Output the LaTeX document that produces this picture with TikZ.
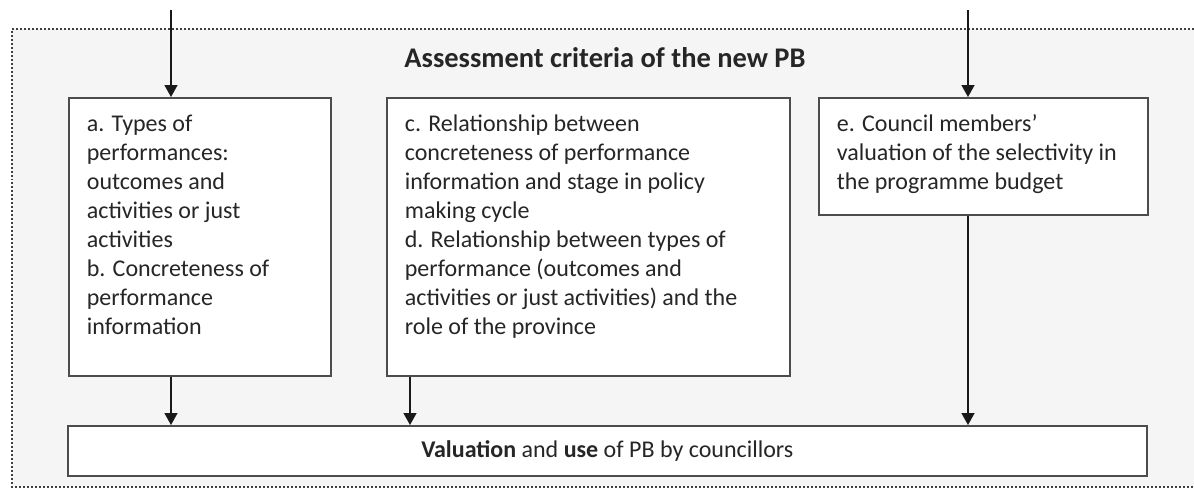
\documentclass[tikz,border=0pt]{standalone}
\usepackage{fontspec}
\setmainfont{Carlito}
\usetikzlibrary{arrows.meta,shadows}

% one pixel of the drawing grid
\newlength\pxl
\setlength\pxl{0.02cm}

\begin{document}
\begin{tikzpicture}[x=0.02cm, y=-0.02cm, >={Triangle[length=0.24cm,width=0.26cm]},
    every node/.style={font=\fontsize{13.66}{16.5}\selectfont, text=black!85}]
    \tikzstyle{crit}=[draw=black!70, line width=0.035cm, fill=white, anchor=north west,
                      inner xsep=0.36cm, inner ysep=0.26cm,
                      drop shadow={shadow xshift=0.03cm, shadow yshift=-0.03cm, fill=black!45}]
    \tikzstyle{result}=[crit, inner sep=0pt, minimum width=21.58cm, minimum height=1cm]
    \tikzstyle{flow}=[->, line width=0.03cm, draw=black!90]
    \tikzstyle{annot}=[anchor=base, font=\fontsize{16.2}{19}\selectfont\bfseries]
    \tikzstyle{frame}=[draw=black!75, line width=0.035cm, dash pattern=on 0.04cm off 0.04cm]

    \useasboundingbox (0,0) rectangle (1194,488);
    \clip (0,0) rectangle (1194,488);

    % the shaded area with its dotted edge (open to the right)
    \fill[black!4] (12,29) rectangle (1210,487);
    \draw[frame] (1210,29) -- (12,29) -- (12,487) -- (1210,487);

    \node[annot] (T) at (605,67) {Assessment criteria of the new PB};

    \node[crit] (A) at (68,97) {\parbox[t][252\pxl][t]{226\pxl}{\raggedright\strut
        a. Types of\\ performances:\\ outcomes and\\ activities or just\\ activities\\
        b. Concreteness of\\ performance\\ information}};
    \node[crit] (C) at (386,97) {\parbox[t][252\pxl][t]{367\pxl}{\raggedright\strut
        c. Relationship between\\ concreteness of performance\\ information and stage in policy\\
        making cycle\\ d. Relationship between types of\\ performance (outcomes and\\
        activities or just activities) and the\\ role of the province}};
    \node[crit] (E) at (818,97) {\parbox[t][91\pxl][t]{293\pxl}{\raggedright\strut
        e. Council members'\\ valuation of the selectivity in\\ the programme budget}};

    \node[result] (V) at (67,425) {\textbf{Valuation} and \textbf{use} of PB by councillors};

    % incoming arrows
    \coordinate (in-A) at (171,10);
    \coordinate (in-E) at (968,10);
    \draw[flow] (in-A) -- (in-A |- A.north);
    \draw[flow] (in-E) -- (in-E |- E.north);

    % down to the valuation box
    \coordinate (x-A) at (171,0);
    \coordinate (x-C) at (410,0);
    \coordinate (x-E) at (968,0);
    \foreach \src in {A,C,E}
        \draw[flow] (\src.south -| x-\src) -- (V.north -| x-\src);

\end{tikzpicture}
\end{document}
